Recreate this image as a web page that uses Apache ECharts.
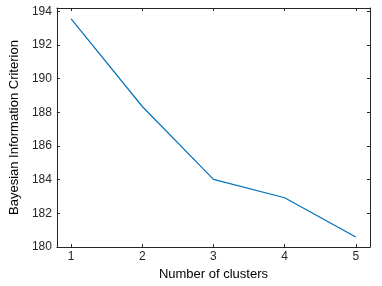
<!DOCTYPE html>
<html>
<head>
<meta charset="utf-8">
<script src="https://cdn.jsdelivr.net/npm/echarts@6/dist/echarts.min.js"></script>
<style>html,body{margin:0;padding:0;background:#fff}#c{width:382px;height:286px}</style>
</head>
<body>
<div id="c"></div>
<script>
var clusters = [1, 2, 3, 4, 5];
var bic = [193.55, 188.35, 184.02, 182.93, 180.6];
var xTicks = [1, 2, 3, 4, 5];
var yTicks = [180, 182, 184, 186, 188, 190, 192, 194];

var axisColor = '#262626';
var font = 'Liberation Sans, Arial, sans-serif';
function xAx(pos, main) {
  return {
    type: 'value', position: pos, min: 0.8, max: 5.2,
    name: main ? 'Number of clusters' : '', nameLocation: 'middle', nameGap: 16,
    nameTextStyle: {color: '#000', fontSize: 13, fontFamily: font},
    axisLine: {show: true, onZero: false, lineStyle: {color: axisColor, width: 1}},
    axisTick: {show: true, inside: true, length: 3, customValues: xTicks, lineStyle: {color: axisColor}},
    axisLabel: {show: main, customValues: xTicks, margin: 4, color: axisColor, fontSize: 12, fontFamily: font},
    splitLine: {show: false}
  };
}
function yAx(pos, main) {
  return {
    type: 'value', position: pos, min: 180, max: 194.2,
    name: main ? 'Bayesian Information Criterion' : '', nameLocation: 'middle', nameGap: 30,
    nameTextStyle: {color: '#000', fontSize: 13, fontFamily: font},
    axisLine: {show: true, onZero: false, lineStyle: {color: axisColor, width: 1}},
    axisTick: {show: true, inside: true, length: 3, customValues: yTicks, lineStyle: {color: axisColor}},
    axisLabel: {show: main, customValues: yTicks, margin: 5, color: axisColor, fontSize: 12, fontFamily: font},
    splitLine: {show: false}
  };
}
var chart = echarts.init(document.getElementById('c'), null, {renderer: 'canvas'});
chart.setOption({
  animation: false,
  backgroundColor: '#fff',
  grid: {left: 45, top: 8, right: 12, bottom: 35},
  xAxis: [xAx('bottom', true), xAx('top', false)],
  yAxis: [yAx('left', true), yAx('right', false)],
  series: [{
    type: 'line',
    data: clusters.map(function (c, i) { return [c, bic[i]]; }),
    showSymbol: false,
    lineStyle: {color: '#0072BD', width: 1.2},
    xAxisIndex: 0, yAxisIndex: 0
  }]
});
</script>
</body>
</html>
